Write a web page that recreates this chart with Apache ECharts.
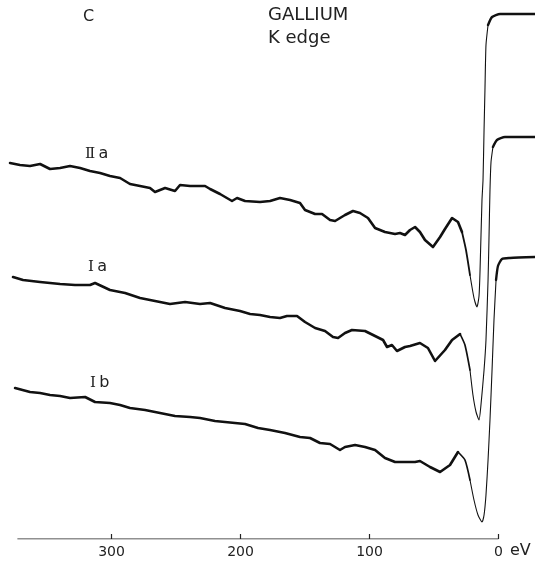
<!DOCTYPE html>
<html>
<head>
<meta charset="utf-8">
<script src="https://cdn.jsdelivr.net/npm/echarts@6/dist/echarts.min.js"></script>
<style>
html,body{margin:0;padding:0;background:#fff;}
#chart{width:535px;height:562px;}
</style>
</head>
<body>
<div id="chart"></div>
<script>
// Energy relative to Ga K edge (eV), absorption in arbitrary units (curves offset)
var curveIIa = [
 [378.7,3.76],[371.0,3.74],[363.2,3.73],[355.4,3.75],[347.7,3.70],[339.9,3.71],[332.2,3.73],[324.4,3.71],
 [316.7,3.68],[308.9,3.66],[301.2,3.63],[293.4,3.61],[285.7,3.55],[277.9,3.53],[270.2,3.51],[266.3,3.47],
 [258.5,3.51],[250.8,3.48],[246.9,3.54],[239.1,3.53],[227.5,3.53],[223.6,3.50],[215.9,3.45],[206.6,3.38],
 [202.7,3.41],[196.5,3.38],[184.9,3.37],[177.1,3.38],[169.4,3.41],[161.6,3.39],[153.9,3.36],[150.0,3.29],
 [142.2,3.25],[136.8,3.25],[130.6,3.19],[126.7,3.18],[119.0,3.24],[112.8,3.28],[107.4,3.26],[101.2,3.21],
 [95.7,3.11],[88.0,3.07],[80.2,3.05],[76.4,3.06],[72.5,3.04],[68.6,3.09],[64.7,3.12],[60.9,3.07],
 [57.0,2.99],[50.8,2.92],[45.3,3.02],[41.5,3.10],[36.0,3.21],[31.4,3.17],[28.3,3.07],[25.2,2.89],
 [22.1,2.64],[19.0,2.41],[16.7,2.32],[15.1,2.43],[14.3,2.69],[12.8,3.39],[12.0,3.59],[11.2,4.09],
 [10.5,4.49],[9.7,4.94],[8.1,5.14],[5.0,5.22],[-1.2,5.25],[-8.9,5.25],[-28.3,5.25]
];
var curveIa = [
 [376.4,2.62],[368.6,2.59],[355.4,2.57],[339.9,2.55],[328.3,2.54],[316.7,2.54],[312.8,2.56],[301.2,2.49],
 [289.5,2.46],[277.9,2.41],[262.4,2.37],[254.7,2.35],[243.0,2.37],[231.4,2.35],[223.6,2.36],[212.0,2.31],
 [200.4,2.28],[192.6,2.25],[184.9,2.24],[177.1,2.22],[169.4,2.21],[164.0,2.23],[156.2,2.23],[150.0,2.17],
 [142.2,2.11],[134.5,2.08],[128.3,2.02],[124.4,2.01],[119.0,2.06],[113.6,2.09],[103.5,2.08],[95.7,2.03],
 [89.5,1.99],[86.4,1.92],[82.6,1.94],[78.7,1.88],[72.5,1.92],[68.6,1.93],[60.9,1.96],[54.7,1.91],
 [49.2,1.78],[41.5,1.89],[36.0,1.99],[29.8,2.05],[26.0,1.94],[22.1,1.69],[19.8,1.44],[17.4,1.27],
 [15.1,1.19],[13.6,1.34],[11.2,1.69],[9.7,1.99],[8.1,2.59],[7.4,2.99],[6.6,3.49],[5.8,3.77],
 [4.3,3.92],[1.2,3.99],[-5.0,4.02],[-28.3,4.02]
];
var curveIb = [
 [374.8,1.51],[363.2,1.47],[355.4,1.46],[347.7,1.44],[339.9,1.43],[332.2,1.41],[320.5,1.42],[312.8,1.37],
 [301.2,1.36],[293.4,1.34],[285.7,1.31],[274.0,1.29],[262.4,1.26],[250.8,1.23],[239.1,1.22],[231.4,1.21],
 [219.8,1.18],[204.3,1.16],[196.5,1.15],[186.4,1.11],[177.1,1.09],[165.5,1.06],[153.9,1.02],[146.1,1.01],
 [138.4,0.96],[130.6,0.95],[122.9,0.89],[119.0,0.92],[111.2,0.94],[103.5,0.92],[95.7,0.89],[88.0,0.81],
 [80.2,0.77],[72.5,0.77],[64.7,0.77],[60.9,0.78],[53.1,0.72],[45.3,0.67],[37.6,0.74],[31.4,0.87],
 [26.0,0.79],[22.1,0.59],[19.0,0.39],[15.9,0.24],[12.8,0.17],[11.2,0.24],[9.7,0.44],[8.1,0.79],
 [6.6,1.19],[5.0,1.69],[3.5,2.19],[1.9,2.59],[0.4,2.73],[-2.7,2.80],[-8.9,2.81],[-28.3,2.82]
];
var axisRange = [373, 0];
var tickValues = [300, 200, 100, 0];

var INK = '#111';
// pen trace is thick where it moves slowly, thin on the steep edge
function addCurve(data, breaks, widths, smooths) {
  // breaks: descending energy thresholds splitting the trace into pieces
  var pieces = [];
  for (var k = 0; k <= breaks.length; k++) pieces.push([]);
  for (var i = 0; i < data.length; i++) {
    var e = data[i][0], idx = 0;
    while (idx < breaks.length && e < breaks[idx]) idx++;
    pieces[idx].push(data[i]);
  }
  // share boundary points so the pieces join
  for (var k = 1; k < pieces.length; k++) {
    var prev = pieces[k - 1];
    if (prev.length && pieces[k].length) pieces[k].unshift(prev[prev.length - 1]);
  }
  for (var k = 0; k < pieces.length; k++) {
    series.push({
      type: 'line', data: pieces[k], symbol: 'none', silent: true, animation: false,
      smooth: smooths[k],
      lineStyle: { color: INK, width: widths[k], join: 'round', cap: 'round' }
    });
  }
}
var series = [];
addCurve(curveIIa, [28, 22, 7], [2.6, 1.8, 1.1, 2.4], [0, 0.2, 0.2, 0.2]);
addCurve(curveIa, [27, 20, 3], [2.6, 1.7, 1.1, 2.4], [0, 0.2, 0.2, 0.2]);
addCurve(curveIb, [27, 20, 1], [2.6, 1.7, 1.1, 2.4], [0, 0.2, 0.2, 0.2]);
series.push({
  type: 'line', data: [[axisRange[0], 0], [axisRange[1], 0]], symbol: 'none', silent: true,
  animation: false, lineStyle: { color: '#222', width: 1.2 }
});

var chart = echarts.init(document.getElementById('chart'));
chart.setOption({
  backgroundColor: '#fff',
  animation: false,
  grid: { left: 5, right: 0, top: 0, bottom: 23 },
  xAxis: {
    type: 'value', inverse: true, min: -28.3, max: 382.6,
    axisLine: { show: false },
    splitLine: { show: false },
    axisTick: { show: true, inside: true, length: 5, customValues: tickValues,
      lineStyle: { color: '#222', width: 1.2 } },
    axisLabel: { customValues: tickValues, margin: 6, color: '#222',
      fontFamily: 'DejaVu Sans', fontSize: 14 }
  },
  yAxis: { type: 'value', min: 0, max: 5.39, show: false },
  series: series,
  graphic: [
    { type: 'text', left: 83, top: 9, style: { text: 'C', font: '16px "DejaVu Sans"', fill: '#222' } },
    { type: 'text', left: 268, top: 4, style: { text: 'GALLIUM\nK edge', font: '18px "DejaVu Sans"', lineHeight: 23, fill: '#222' } },
    { type: 'text', left: 85, top: 146, style: { text: '{r|Ⅱ} {s|a}', rich: {
        r: { fontFamily: 'DejaVu Serif', fontSize: 15, fill: '#222' },
        s: { fontFamily: 'DejaVu Sans', fontSize: 16, fill: '#222' } } } },
    { type: 'text', left: 88, top: 259, style: { text: '{r|I} {s|a}', rich: {
        r: { fontFamily: 'DejaVu Serif', fontSize: 15, fill: '#222' },
        s: { fontFamily: 'DejaVu Sans', fontSize: 16, fill: '#222' } } } },
    { type: 'text', left: 90, top: 375, style: { text: '{r|I} {s|b}', rich: {
        r: { fontFamily: 'DejaVu Serif', fontSize: 15, fill: '#222' },
        s: { fontFamily: 'DejaVu Sans', fontSize: 16, fill: '#222' } } } },
    { type: 'text', left: 510, top: 543, style: { text: 'eV', font: '16px "DejaVu Sans"', fill: '#222' } }
  ]
});
</script>
</body>
</html>
